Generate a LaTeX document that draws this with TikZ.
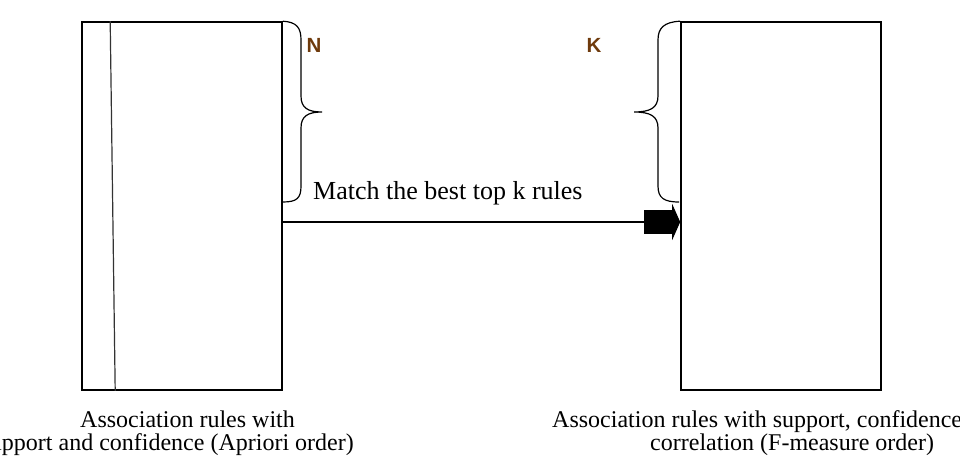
\documentclass[tikz,border=0pt]{standalone}
\usepackage{fontspec}
\setmainfont{Liberation Serif}
\newfontfamily\letterfont{Liberation Sans}
\usetikzlibrary{arrows.meta, positioning, calc}
\definecolor{braceletter}{RGB}{110,58,12}
\tikzstyle{rulebox} = [draw, line width=1.6pt, minimum width=200pt, minimum height=368pt, inner sep=0pt]
\tikzstyle{arrow} = [line width=1.3pt, -{Rectangle[length=28pt,width=24pt]Triangle[length=8pt,width=36pt]}]
\tikzstyle{brace} = [line width=1.2pt]
\tikzstyle{caption} = [font=\fontsize{24}{27}\selectfont, inner sep=0pt]
\tikzstyle{letter} = [font=\letterfont\bfseries\fontsize{20.5}{24}\selectfont, text=braceletter]

\begin{document}
\begin{tikzpicture}[x=1pt, y=-1pt]
  \path[use as bounding box, clip] (0,0) rectangle (960,462);

  \node [rulebox] (apriori) at (182,206) {};
  \node [rulebox] (fmeasure) at (781,206) {};
  \draw [line width=1.2pt, black!80] ($(apriori.north west)+(29,0)$) -- ($(apriori.south west)+(34,0)$);

  \draw [brace] (apriori.north east) .. controls (297,22) and (301,28) .. (301,40) -- (301,96)
    .. controls (301,108) and (308,112) .. (322,112) .. controls (308,112) and (301,116) .. (301,128)
    -- (301,186) .. controls (301,198) and (297,202) .. (283,202);
  \draw [brace] (fmeasure.north west) .. controls (664,22) and (658,28) .. (658,40) -- (658,96)
    .. controls (658,108) and (650,112) .. (634,112) .. controls (650,112) and (658,116) .. (658,128)
    -- (658,186) .. controls (658,198) and (664,202) .. (679,202);

  \node [letter] (n) at (314,45) {N};
  \node [letter] (k) at (594,45) {K};

  \node [anchor=base west, inner sep=0pt, font=\fontsize{26}{30}\selectfont] (match) at (313,200) {Match the best top k rules};
  \coordinate (level) at (0,222);
  \draw [arrow] (apriori.east |- level) -- (fmeasure.west |- level);

  \node [caption, anchor=base west] (apriori1) at (80,427) {Association rules with};
  \node [caption, anchor=base east] (apriori2) at (354,450) {support and confidence (Apriori order)};
  \node [caption, anchor=base west] (fmeasure1) at (552,427) {Association rules with support, confidence,};
  \node [caption, anchor=base west] (fmeasure2) at (650,450) {correlation (F-measure order)};
\end{tikzpicture}
\end{document}
